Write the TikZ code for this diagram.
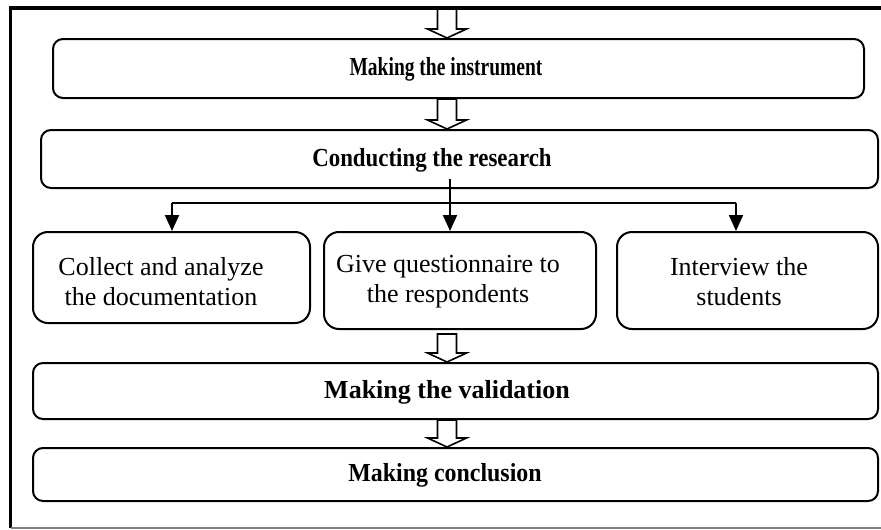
\documentclass[tikz,border=0pt]{standalone}
\usepackage{fontspec}
\setmainfont{Liberation Serif}
\usetikzlibrary{arrows.meta,calc}
\newcommand\myblockarrow[2]{%
  \draw[hollow] let \p1=#1, \p2=#2 in
    (\x1-9.5pt,\y1) -- (\x1+9.5pt,\y1) -- (\x1+9.5pt,\y2+9pt) -- (\x1+19.5pt,\y2+9pt)
    -- (\x1,\y2) -- (\x1-19.5pt,\y2+9pt) -- (\x1-9.5pt,\y2+9pt) -- cycle;}
\newcommand\hsq[2]{\scalebox{#1}[1]{#2}}
\begin{document}
\begin{tikzpicture}[x=1pt,y=-1pt,
  box/.style={draw=black, line width=2pt, rounded corners=10pt, inner sep=0pt},
  subbox/.style={box, rounded corners=15pt},
  head/.style={font=\fontsize{26}{30}\selectfont\bfseries, inner sep=0pt},
  body/.style={font=\fontsize{26}{30}\selectfont, align=center, inner sep=0pt},
  conn/.style={line width=2pt, -{Triangle[width=14pt,length=16pt]}},
  plain/.style={line width=2pt},
  hollow/.style={draw=black, line width=1.6pt, fill=white, line join=miter}
]
\fill[white] (0,0) rectangle (881,530);
\useasboundingbox (0,0) rectangle (881,530);

% boxes
\node[box, minimum width=811pt, minimum height=59pt] (b1) at (458.5,68.5) {};
\node[box, minimum width=837pt, minimum height=58pt] (b2) at (459.5,159) {};
\node[subbox, minimum width=277pt, minimum height=91pt] (s1) at (171.5,277.5) {};
\node[subbox, minimum width=272pt, minimum height=97pt] (s2) at (460,280.5) {};
\node[subbox, minimum width=261pt, minimum height=97pt] (s3) at (747.5,280.5) {};
\node[box, minimum width=845pt, minimum height=56pt] (b4) at (455.5,391) {};
\node[box, minimum width=845pt, minimum height=53pt] (b5) at (455.5,474.5) {};

% frame
\coordinate (ftop) at (447,8);
\coordinate (fl) at (10.5,8);
\coordinate (fr) at (881,8);
\coordinate (fbl) at (10.5,528);
\coordinate (fbr) at (881,528);

% hollow arrows
\coordinate (ax) at (447,0);
\myblockarrow{(ftop)}{(ax |- b1.north)}
\myblockarrow{(ax |- b1.south)}{(ax |- b2.north)}
\myblockarrow{($(ax |- s2.south)+(0,4)$)}{(ax |- b4.north)}
\myblockarrow{(ax |- b4.south)}{(ax |- b5.north)}

\draw[line width=3.5pt] (fr) -- (fl) -- (fbl);
\draw[gray, line width=1.5pt] (fbl) -- (fbr);

% texts
\node[head] (t1) at (446,69) {\hsq{0.75}{Making the instrument}};
\node[head] (t2) at (432,160) {\hsq{0.88}{Conducting the research}};
\node[body] (u1) at (161,282) {Collect and analyze\\the documentation};
\node[body] (u2) at (448,282) {Give questionnaire to\\the respondents};
\node[body] (u3) at (739,282) {Interview the\\students};
\node[head] (t4) at (447,392) {Making the validation};
\node[head] (t5) at (445,475) {\hsq{0.92}{Making conclusion}};

% connectors
\coordinate (mx) at (450,0);
\coordinate (j1) at (172,203);
\coordinate (j3) at (736,203);
\draw[conn] ([yshift=10pt]b2.south -| mx) -- (mx |- s2.north);
\draw[plain] (j1) -- (j3);
\draw[conn] (j1) -- (j1 |- s1.north);
\draw[conn] (j3) -- (j3 |- s3.north);
\end{tikzpicture}
\end{document}
